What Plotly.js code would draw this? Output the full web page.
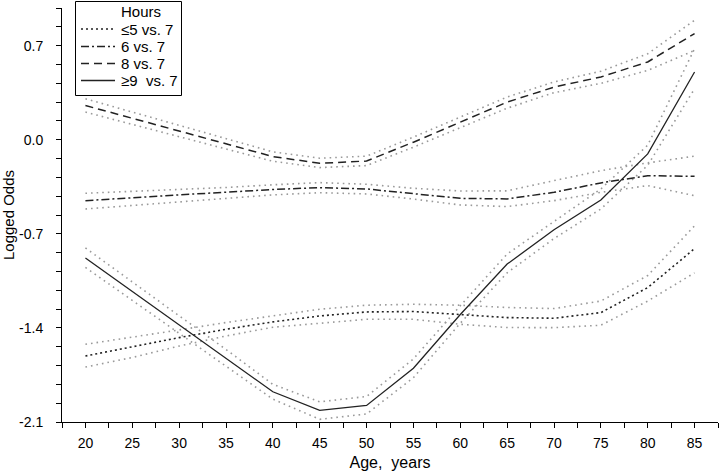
<!DOCTYPE html>
<html>
<head>
<meta charset="utf-8">
<script src="https://cdn.plot.ly/plotly-3.0.1.min.js"></script>
<style>html,body{margin:0;padding:0;background:#fff;}#chart{width:720px;height:473px;}</style>
</head>
<body>
<div id="chart"></div>
<script>
const ages = [20,25,30,35,40,45,50,55,60,65,70,75,80,85];

const le5Mid = [-1.609,-1.54,-1.472,-1.41,-1.355,-1.311,-1.281,-1.278,-1.298,-1.323,-1.328,-1.286,-1.10,-0.81];
const le5Up  = [-1.522,-1.47,-1.415,-1.36,-1.31,-1.261,-1.231,-1.224,-1.231,-1.248,-1.256,-1.20,-1.01,-0.64];
const le5Lo  = [-1.691,-1.62,-1.535,-1.46,-1.395,-1.365,-1.336,-1.336,-1.373,-1.397,-1.398,-1.38,-1.20,-0.99];

const sixMid = [-0.453,-0.43,-0.41,-0.39,-0.37,-0.356,-0.366,-0.401,-0.436,-0.44,-0.391,-0.321,-0.267,-0.272];
const sixUp  = [-0.398,-0.385,-0.37,-0.355,-0.335,-0.319,-0.331,-0.361,-0.381,-0.38,-0.304,-0.23,-0.172,-0.122];
const sixLo  = [-0.515,-0.49,-0.46,-0.435,-0.41,-0.394,-0.403,-0.441,-0.485,-0.497,-0.453,-0.391,-0.341,-0.416];

const eightMid = [0.255,0.16,0.065,-0.03,-0.125,-0.175,-0.158,-0.018,0.131,0.28,0.392,0.467,0.579,0.79];
const eightUp  = [0.305,0.205,0.105,0.005,-0.09,-0.137,-0.122,0.02,0.17,0.318,0.43,0.51,0.64,0.889];
const eightLo  = [0.206,0.115,0.025,-0.065,-0.16,-0.207,-0.192,-0.055,0.09,0.235,0.35,0.42,0.516,0.665];

const nineMid = [-0.88,-1.13,-1.378,-1.627,-1.875,-2.014,-1.977,-1.70,-1.30,-0.925,-0.67,-0.448,-0.105,0.504];
const nineUp  = [-0.805,-1.06,-1.31,-1.56,-1.82,-1.95,-1.91,-1.63,-1.235,-0.85,-0.605,-0.366,-0.04,0.678];
const nineLo  = [-0.95,-1.195,-1.44,-1.69,-1.93,-2.08,-2.04,-1.77,-1.365,-0.99,-0.735,-0.515,-0.19,0.38];

const legendTitle = 'Hours';
const seriesNames = ['\u22645 vs. 7', '6 vs. 7', '8 vs. 7', '\u22659\u00a0 vs. 7'];
const yTickVals = [-2.1, -1.4, -0.7, 0.0, 0.7];
const yTickText = ['-2.1', '-1.4', '-0.7', '0.0', '0.7'];

const W = 720, H = 473;
const M = {l: 62, r: 2, t: 8, b: 51};
const PW = W - M.l - M.r, PH = H - M.t - M.b;
const px = v => (v - M.l) / PW;          // pixel x -> paper x
const py = v => (H - M.b - v) / PH;      // pixel y -> paper y

const ciColor = '#9a9a9a';
const lineColor = '#222222';
const ciLine = {color: ciColor, width: 1.6, dash: '1.6px,4px'};

function ci(y) {
  return {x: ages, y: y, type: 'scatter', mode: 'lines', line: ciLine,
          showlegend: false, hoverinfo: 'skip'};
}
const mids = [
  {y: le5Mid, dash: '2px,3px', width: 1.6},
  {y: sixMid, dash: '8px,3px,2px,3px', width: 1.5},
  {y: eightMid, dash: '8px,5px', width: 1.5},
  {y: nineMid, dash: 'solid', width: 1.3}
];
const cis = [le5Up, le5Lo, sixUp, sixLo, eightUp, eightLo, nineUp, nineLo];

const traces = cis.map(ci).concat(mids.map((m, i) => ({
  x: ages, y: m.y, type: 'scatter', mode: 'lines', name: seriesNames[i],
  line: {color: lineColor, width: m.width, dash: m.dash}, showlegend: false
})));

const font = {family: 'Liberation Sans, Arial, sans-serif', color: '#000'};

// hand-built legend box (positions in pixels converted to paper coords)
const legRows = [29, 46.5, 63.5, 80.5];
const shapes = [{
  type: 'rect', xref: 'paper', yref: 'paper',
  x0: px(75.5), x1: px(181.5), y0: py(95.5), y1: py(1.5),
  line: {color: '#000', width: 1}, fillcolor: '#fff', layer: 'above'
}];
const annotations = [{
  xref: 'paper', yref: 'paper', x: px(119), y: py(11), xanchor: 'left', yanchor: 'middle',
  text: legendTitle, showarrow: false, font: Object.assign({size: 15}, font)
}];
mids.forEach((m, i) => {
  shapes.push({
    type: 'line', xref: 'paper', yref: 'paper', layer: 'above',
    x0: px(81), x1: px(115), y0: py(legRows[i]), y1: py(legRows[i]),
    line: {color: lineColor, width: m.width, dash: m.dash}
  });
  annotations.push({
    xref: 'paper', yref: 'paper', x: px(119), y: py(legRows[i]), xanchor: 'left', yanchor: 'middle',
    text: seriesNames[i], showarrow: false, font: Object.assign({size: 15}, font)
  });
});

const layout = {
  width: W, height: H,
  margin: M,
  paper_bgcolor: '#fff', plot_bgcolor: '#fff',
  font: Object.assign({size: 14}, font),
  showlegend: false,
  shapes: shapes,
  annotations: annotations,
  xaxis: {
    range: [17.5, 87.5], tick0: 20, dtick: 5, ticks: 'outside', ticklen: 5,
    tickcolor: '#000', showline: true, linecolor: '#000', linewidth: 1,
    showgrid: false, zeroline: false, ticklabelstandoff: 3,
    tickfont: Object.assign({size: 14}, font),
    minor: {dtick: 2.5, tick0: 17.5, ticks: 'outside', ticklen: 5, tickcolor: '#000', showgrid: false},
    title: {text: 'Age,  years', font: Object.assign({size: 16}, font), standoff: 7}
  },
  yaxis: {
    range: [-2.1, 0.9805], tickmode: 'array', tickvals: yTickVals, ticktext: yTickText,
    ticks: 'outside', ticklen: 5, tickcolor: '#000', showline: true, linecolor: '#000',
    linewidth: 1, showgrid: false, zeroline: false, ticklabelstandoff: 10,
    tickfont: Object.assign({size: 14}, font),
    minor: {dtick: 0.14, tick0: -2.1, ticks: 'outside', ticklen: 5, tickcolor: '#000', showgrid: false},
    title: {text: 'Logged Odds', font: Object.assign({size: 15}, font), standoff: 6}
  }
};

Plotly.newPlot('chart', traces, layout, {displayModeBar: false, staticPlot: true});
</script>
</body>
</html>
